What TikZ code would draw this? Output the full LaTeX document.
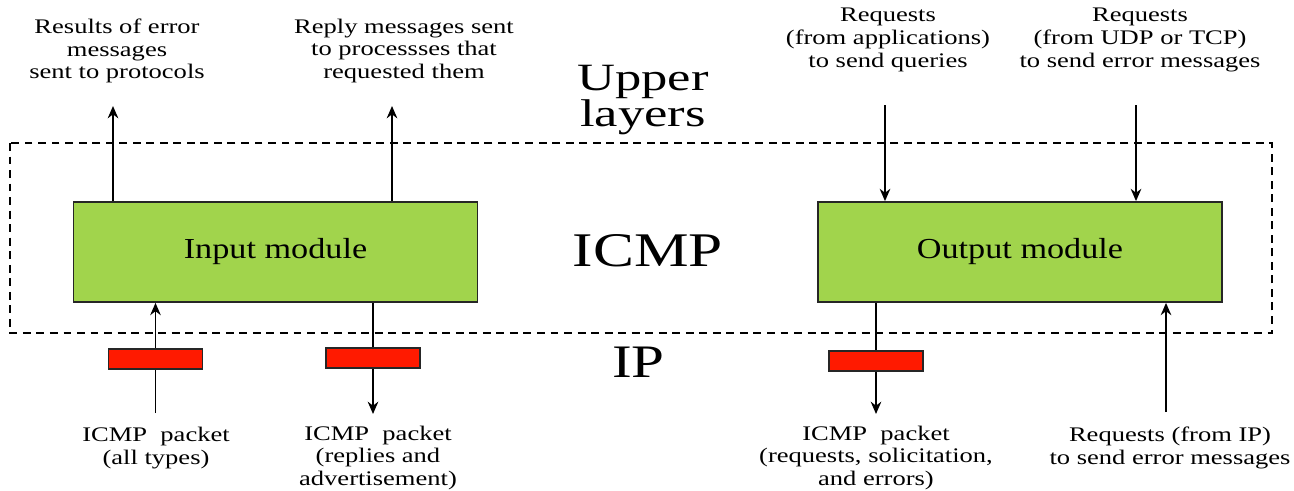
\documentclass[tikz,border=0pt]{standalone}
\usepackage{fontspec}
\setmainfont{Liberation Serif}[FakeStretch=1.33]
\newfontfamily\notefont{Liberation Serif}[FakeStretch=1.28]
\newfontfamily\modfont{Liberation Serif}[FakeStretch=1.18]
\newfontfamily\layerfont{Liberation Serif}[FakeStretch=1.36]
\newfontfamily\bigfont{Liberation Serif}[FakeStretch=1.27]
\usetikzlibrary{arrows.meta}
\definecolor{modgreen}{RGB}{161,212,76}
\definecolor{pktred}{RGB}{255,26,0}
\tikzset{
  module/.style={draw=black!85, line width=1pt, fill=modgreen,
    minimum width=8.08cm, minimum height=2cm, inner sep=0pt,
    font=\modfont\fontsize{16.5}{18}\selectfont},
  packet/.style={draw=black!85, line width=1pt, fill=pktred,
    minimum width=1.88cm, minimum height=0.4cm, inner sep=0pt},
  flow/.style={line width=1.1pt, -{Stealth[length=7pt, width=6pt]}},
  wire/.style={line width=1.1pt},
  note/.style={align=center, inner sep=0pt,
    font=\notefont\fontsize{11.8}{12.9}\selectfont},
  region/.style={dashed, line width=0.9pt, dash pattern=on 4.5pt off 3.2pt},
}
\begin{document}
\begin{tikzpicture}[x=0.02cm, y=-0.02cm]
\useasboundingbox (0,0) rectangle (1294,490);

% ICMP boundary
\draw[region] (10,143) rectangle (1272,333);

% layer names
\node[align=center, inner sep=0pt, font=\layerfont\fontsize{22}{21}\selectfont] (upper) at (643,100) {Upper\\layers};
\node[anchor=base, inner sep=0pt, font=\bigfont\fontsize{27.5}{30}\selectfont] (icmp) at (648,266) {ICMP};
\node[anchor=base, inner sep=0pt, font=\bigfont\fontsize{26.5}{30}\selectfont] (ip) at (638.5,377) {IP};

% modules
\node[module] (in) at (275.5,252) {\raisebox{-2.5pt}{Input module}};
\node[module] (out) at (1020,252) {\raisebox{-2.5pt}{Output module}};

% upper-layer labels
\node[note] (l1) at (117,51) {Results of error\\messages\\sent to protocols};
\node[note] (l2) at (404,51) {Reply messages sent\\to processses that\\requested them};
\node[note] (l3) at (888,40) {Requests\\(from applications)\\to send queries};
\node[note] (l4) at (1140,40) {Requests\\(from UDP or TCP)\\to send error messages};

% IP-side labels
\node[note] (b1) at (156,448) {ICMP\ \ packet\\(all types)};
\node[note] (b2) at (378,458) {ICMP\ \ packet\\(replies and\\advertisement)};
\node[note] (b3) at (876,458) {ICMP\ \ packet\\(requests, solicitation,\\and errors)};
\node[note] (b4) at (1170,448) {Requests (from IP)\\to send error messages};

% arrow ends toward the upper layers
\coordinate (u1) at (113,106);
\coordinate (u2) at (392,106);
\coordinate (u3) at (885,105);
\coordinate (u4) at (1136,105);
% arrow ends toward IP
\coordinate (d1) at (155.5,413);
\coordinate (d2) at (373,414);
\coordinate (d3) at (876,414);
\coordinate (d4) at (1166,412);

% input side
\draw[flow] (u1 |- in.north) -- (u1);
\draw[flow] (u2 |- in.north) -- (u2);
\node[packet] (p1) at (155.5,359) {};
\node[packet] (p2) at (373,358) {};
\draw[wire] (d1) -- (p1);
\draw[flow] (p1) -- (p1 |- in.south);
\draw[wire] (p2 |- in.south) -- (p2);
\draw[flow] (p2) -- (d2);

% output side
\draw[flow] (u3) -- (u3 |- out.north);
\draw[flow] (u4) -- (u4 |- out.north);
\node[packet] (p3) at (876,361) {};
\draw[wire] (p3 |- out.south) -- (p3);
\draw[flow] (p3) -- (d3);
\draw[flow] (d4) -- (d4 |- out.south);
\end{tikzpicture}
\end{document}
